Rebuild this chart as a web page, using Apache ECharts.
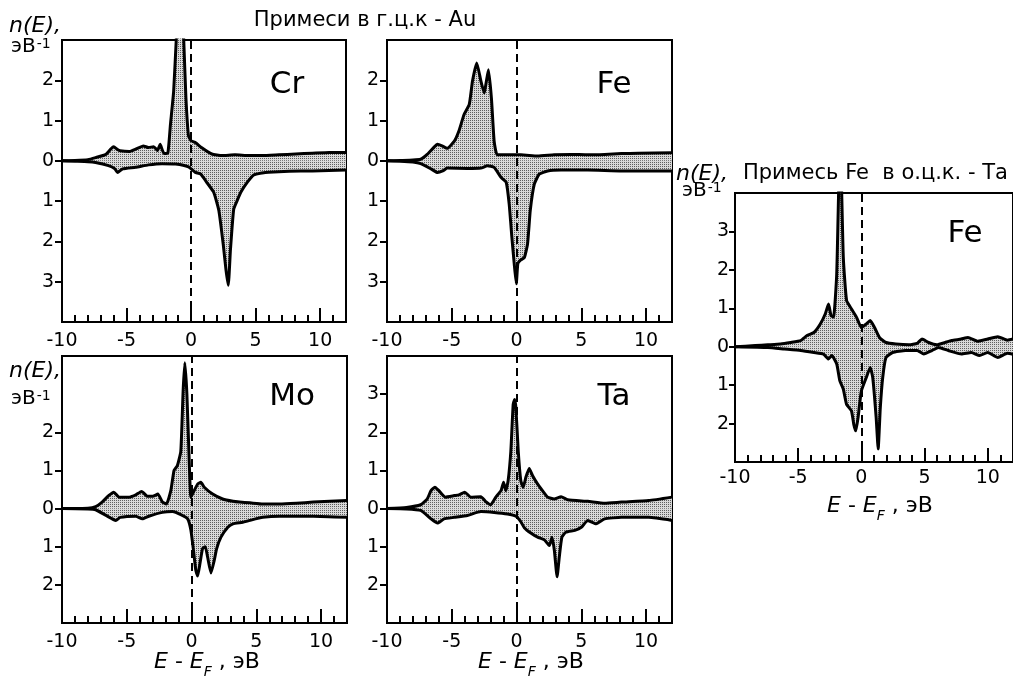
<!DOCTYPE html>
<html>
<head>
<meta charset="utf-8">
<script src="https://cdn.jsdelivr.net/npm/echarts@6/dist/echarts.min.js"></script>
<style>
  html, body { margin: 0; padding: 0; background: #fff; }
  #chart { width: 1013px; height: 680px; }
</style>
</head>
<body>
<div id="chart"></div>
<script>
/* ── data: [E - E_F (эВ), n(E)] ; "dn" = spin-down, drawn below zero ── */
const crUp = [[-10,0],[-9,0.01],[-8,0.03],[-7.4,0.08],[-6.6,0.16],[-6.2,0.3],[-6.0,0.35],[-5.7,0.28],[-5.5,0.25],[-4.8,0.23],[-4.3,0.29],[-3.7,0.37],[-3.3,0.33],[-2.9,0.35],[-2.6,0.26],[-2.4,0.41],[-2.1,0.18],[-1.8,0.2],[-1.6,0.9],[-1.35,1.73],[-1.15,3.0],[-0.8,4.77],[-0.57,3.0],[-0.4,1.56],[-0.2,0.62],[0,0.5],[0.35,0.45],[0.8,0.33],[1.6,0.17],[2.4,0.13],[3.4,0.15],[4.5,0.13],[5.5,0.13],[6.8,0.15],[8.1,0.17],[9.4,0.19],[10.7,0.21],[12,0.21]];
const crDn = [[-10,0],[-9,0.01],[-8,0.02],[-7.4,0.04],[-6.4,0.12],[-5.9,0.2],[-5.7,0.29],[-5.3,0.2],[-4.3,0.16],[-3.3,0.1],[-2.25,0.07],[-1.2,0.08],[-0.2,0.15],[0.3,0.28],[0.75,0.33],[1.25,0.55],[1.75,0.78],[2.15,1.23],[2.5,2.1],[2.7,2.7],[2.88,3.09],[3.05,2.2],[3.3,1.2],[3.55,1.0],[3.85,0.78],[4.36,0.53],[4.85,0.35],[5.5,0.3],[6.0,0.28],[7.6,0.26],[9.4,0.25],[12,0.23]];

const feUp = [[-10,0],[-9,0.01],[-8,0.02],[-7.4,0.04],[-6.9,0.16],[-6.4,0.33],[-6.1,0.41],[-5.75,0.37],[-5.35,0.31],[-4.8,0.49],[-4.45,0.74],[-4.05,1.15],[-3.65,1.4],[-3.4,1.98],[-3.07,2.43],[-2.75,1.98],[-2.5,1.69],[-2.17,2.26],[-1.94,1.56],[-1.73,0.49],[-1.5,0.15],[-0.95,0.15],[0.34,0.15],[1.63,0.12],[2.9,0.15],[4.2,0.16],[5.5,0.15],[6.8,0.16],[8.1,0.18],[9.4,0.19],[12,0.2]];
const feDn = [[-10,0],[-9,0.01],[-8,0.03],[-7.4,0.07],[-6.6,0.2],[-6.1,0.29],[-5.7,0.25],[-5.35,0.18],[-3.8,0.19],[-2.75,0.18],[-2.25,0.12],[-1.73,0.16],[-1.2,0.41],[-0.8,0.53],[-0.57,1.07],[-0.36,1.9],[-0.18,2.55],[-0.02,3.05],[0.1,2.55],[0.28,2.47],[0.6,2.4],[0.85,2.06],[1.06,1.23],[1.37,0.58],[1.75,0.33],[2.4,0.25],[3.44,0.23],[5.5,0.23],[8.1,0.25],[12,0.25]];

const moUp = [[-10,0],[-8,0.01],[-7.4,0.05],[-6.9,0.17],[-6.4,0.34],[-6.0,0.43],[-5.6,0.3],[-4.8,0.3],[-4.3,0.36],[-3.85,0.45],[-3.4,0.32],[-3.0,0.32],[-2.6,0.38],[-2.25,0.17],[-1.94,0.12],[-1.6,0.47],[-1.35,1.0],[-1.1,1.12],[-0.83,1.5],[-0.65,3.08],[-0.52,3.82],[-0.36,3.0],[-0.18,1.25],[-0.05,0.3],[0.2,0.47],[0.47,0.64],[0.72,0.69],[0.98,0.56],[1.63,0.38],[2.4,0.25],[3.2,0.19],[3.7,0.17],[4.5,0.15],[5.5,0.12],[6.8,0.12],[8.1,0.14],[9.4,0.17],[12,0.21]];
const moDn = [[-10,0],[-8,0.01],[-7.4,0.03],[-6.6,0.18],[-5.85,0.31],[-5.5,0.23],[-4.3,0.2],[-3.8,0.27],[-3.3,0.2],[-2.25,0.1],[-1.47,0.08],[-0.83,0.16],[-0.3,0.27],[-0.05,0.57],[0.15,1.1],[0.33,1.62],[0.47,1.77],[0.65,1.44],[0.85,1.05],[1.06,1.0],[1.24,1.27],[1.5,1.69],[1.75,1.36],[1.94,1.05],[2.27,0.75],[2.8,0.49],[3.2,0.4],[3.95,0.36],[4.5,0.31],[5.5,0.23],[6.8,0.2],[9.4,0.2],[12,0.23]];

const taUp = [[-10,0],[-8.5,0.03],[-7.4,0.1],[-6.9,0.25],[-6.6,0.47],[-6.3,0.56],[-6.0,0.47],[-5.5,0.3],[-4.8,0.34],[-4.45,0.36],[-4.0,0.43],[-3.55,0.3],[-2.75,0.31],[-2.4,0.19],[-2.0,0.1],[-1.6,0.3],[-1.2,0.47],[-1.0,0.69],[-0.83,0.47],[-0.65,0.73],[-0.44,1.51],[-0.26,2.73],[-0.15,2.86],[-0.05,2.64],[0.13,1.51],[0.33,0.73],[0.52,0.56],[0.72,0.82],[0.98,1.05],[1.24,0.86],[1.63,0.64],[2.0,0.47],[2.4,0.3],[2.9,0.25],[3.44,0.31],[3.95,0.23],[5.5,0.19],[6.8,0.14],[8.1,0.17],[10.2,0.21],[12,0.3]];
const taDn = [[-10,0],[-8.5,0.01],[-7.4,0.05],[-6.6,0.27],[-6.1,0.38],[-5.6,0.27],[-4.8,0.23],[-3.8,0.18],[-2.75,0.08],[-1.73,0.1],[-0.7,0.14],[-0.05,0.2],[0.3,0.33],[0.6,0.5],[1.1,0.64],[1.63,0.75],[2.15,0.82],[2.53,0.97],[2.74,0.75],[2.92,1.1],[3.13,1.79],[3.3,1.27],[3.5,0.75],[3.8,0.62],[4.5,0.57],[5.0,0.49],[5.5,0.31],[6.15,0.4],[6.8,0.27],[8.1,0.23],[10.2,0.23],[12,0.31]];

const fetaUp = [[-10,0],[-8.4,0.03],[-7.4,0.05],[-6.4,0.07],[-5.6,0.11],[-4.8,0.16],[-4.3,0.29],[-3.75,0.37],[-3.25,0.59],[-2.86,0.85],[-2.6,1.11],[-2.4,0.81],[-2.2,0.77],[-1.95,1.9],[-1.68,5.5],[-1.43,2.33],[-1.17,1.2],[-0.78,0.98],[-0.39,0.77],[0,0.5],[0.39,0.59],[0.7,0.68],[1.04,0.5],[1.43,0.24],[1.95,0.11],[2.73,0.07],[3.77,0.05],[4.42,0.09],[4.8,0.2],[5.32,0.11],[5.97,0.05],[6.62,0.11],[7.14,0.16],[7.9,0.2],[8.44,0.24],[9.22,0.14],[10.0,0.2],[10.8,0.26],[11.56,0.17],[12,0.2]];
const fetaDn = [[-10,0],[-7.4,0.02],[-6.1,0.06],[-4.8,0.1],[-3.75,0.15],[-3.0,0.19],[-2.6,0.32],[-2.34,0.23],[-1.95,0.45],[-1.7,0.89],[-1.43,1.1],[-1.17,1.5],[-0.78,1.67],[-0.6,2.02],[-0.44,2.19],[-0.26,1.84],[0,1.15],[0.39,0.8],[0.7,0.54],[0.9,0.8],[1.17,1.84],[1.33,2.66],[1.5,1.58],[1.69,0.8],[1.95,0.28],[2.47,0.15],[3.5,0.1],[4.42,0.1],[4.94,0.19],[5.58,0.1],[6.1,0.02],[6.88,0.1],[7.92,0.19],[8.7,0.15],[9.35,0.23],[10.0,0.15],[10.8,0.28],[11.56,0.17],[12,0.2]];

/* ── axis ticks ── */
const xMinorTicks = [-9,-8,-7,-6,-4,-3,-2,-1,1,2,3,4,6,7,8,9,11];
const xMajorTicks = [-5,0,5,10];
const xLabels = [-10,-5,0,5,10];
const yTicksTop = [-3,-2,-1,0,1,2];
const yTicksMo = [-2,-1,0,1,2];
const yTicksBottom = [-2,-1,0,1,2,3];

/* ── style ── */
const FONT = "'DejaVu Sans', sans-serif";
const INK = "#000";

const dots = document.createElement("canvas");
dots.width = 2; dots.height = 2;
const dctx = dots.getContext("2d");
dctx.fillStyle = "#d9d9d9"; dctx.fillRect(0, 0, 2, 2);
dctx.fillStyle = "#5e5e5e"; dctx.fillRect(0, 0, 1, 1);
const FILL = { image: dots, repeat: "repeat" };

const panels = [
  { up: crUp, dn: crDn, box: { left: 62, top: 40, width: 284, height: 282 }, y: [-4, 3], yt: yTicksTop, lm: 10, ym: 8, tl: 7 },
  { up: feUp, dn: feDn, box: { left: 387, top: 40, width: 285, height: 282 }, y: [-4, 3], yt: yTicksTop, lm: 10, ym: 8, tl: 7 },
  { up: moUp, dn: moDn, box: { left: 62, top: 356, width: 285, height: 267 }, y: [-3, 4], yt: yTicksMo, lm: 10, ym: 8, tl: 7 },
  { up: taUp, dn: taDn, box: { left: 387, top: 356, width: 285, height: 267 }, y: [-3, 4], yt: yTicksBottom, lm: 10, ym: 8, tl: 7 },
  { up: fetaUp, dn: fetaDn, box: { left: 735, top: 193, width: 288, height: 269 }, y: [-3, 4], yt: yTicksBottom, lm: 7, ym: 6, tl: 6 },
];

const grid = [], xAxis = [], yAxis = [], series = [];

panels.forEach((p, i) => {
  grid.push({ ...p.box, show: true, borderColor: INK, borderWidth: 2, backgroundColor: "transparent" });

  xAxis.push({
    gridIndex: i, type: "value", min: -10, max: 12, position: "bottom",
    axisLine: { show: false, onZero: false }, splitLine: { show: false },
    axisTick: { show: true, inside: true, length: 7, customValues: xMinorTicks, lineStyle: { color: INK, width: 2 } },
    axisLabel: { customValues: xLabels, margin: p.lm, fontSize: 19, fontFamily: FONT, color: INK },
  });
  xAxis.push({
    gridIndex: i, type: "value", min: -10, max: 12, position: "bottom",
    axisLine: { show: false, onZero: false }, splitLine: { show: false }, axisLabel: { show: false },
    axisTick: { show: true, inside: true, length: 14, customValues: xMajorTicks, lineStyle: { color: INK, width: 2 } },
  });

  yAxis.push({
    gridIndex: i, type: "value", min: p.y[0], max: p.y[1], interval: 1, position: "left",
    axisLine: { show: false, onZero: false }, splitLine: { show: false },
    axisTick: { show: true, inside: false, length: p.tl, customValues: p.yt, lineStyle: { color: INK, width: 2 } },
    axisLabel: { customValues: p.yt, margin: p.ym, fontSize: 19, fontFamily: FONT, color: INK, formatter: (v) => String(Math.abs(v)) },
  });

  const common = {
    type: "line", xAxisIndex: 2 * i, yAxisIndex: i,
    showSymbol: false, smooth: 0.15, silent: true,
    lineStyle: { color: INK, width: 3, join: "round" },
    areaStyle: { color: FILL, opacity: 1, origin: 0 },
  };
  series.push({ ...common, data: p.up });
  series.push({
    ...common,
    data: p.dn.map(([x, v]) => [x, -v]),
    markLine: {
      silent: true, symbol: "none", animation: false,
      label: { show: false },
      lineStyle: { color: INK, width: 2, type: [8, 5] },
      data: [{ xAxis: 0 }],
    },
  });
});

/* ── texts ── */
const base = { fontFamily: FONT, fill: INK };
const eUnit = {
  a: { fontSize: 20, fontFamily: FONT, lineHeight: 22, verticalAlign: "middle" },
  s: { fontSize: 14, fontFamily: FONT, lineHeight: 14, verticalAlign: "top", padding: [1, 0, 0, 1] },
};
const axisName = {
  i: { fontSize: 22, fontFamily: FONT, fontStyle: "italic", lineHeight: 34, verticalAlign: "middle" },
  n: { fontSize: 22, fontFamily: FONT, lineHeight: 34, verticalAlign: "middle" },
  f: { fontSize: 14, fontFamily: FONT, fontStyle: "italic", lineHeight: 15, verticalAlign: "bottom" },
};
const AXIS_NAME = "{i|E}{n| - }{i|E}{f|F}{n| , эВ}";

function txt(x, y, text, size, extra) {
  return { type: "text", x, y, silent: true, style: { ...base, text, fontSize: size, align: "center", verticalAlign: "middle", ...extra } };
}

const graphic = [
  txt(365, 21, "Примеси в г.ц.к - Au", 21),
  txt(9, 26, "n(E),", 22, { align: "left", fontStyle: "italic" }),
  txt(11, 47, "{a|эВ}{s|-1}", 20, { align: "left", rich: eUnit }),
  txt(9, 371, "n(E),", 22, { align: "left", fontStyle: "italic" }),
  txt(11, 399, "{a|эВ}{s|-1}", 20, { align: "left", rich: eUnit }),
  txt(676, 174, "n(E),", 22, { align: "left", fontStyle: "italic" }),
  txt(743, 174, "Примесь Fe  в о.ц.к. - Та", 21, { align: "left" }),
  txt(682, 191, "{a|эВ}{s|-1}", 20, { align: "left", rich: eUnit }),
  txt(287, 85, "Cr", 31),
  txt(614, 85, "Fe", 31),
  txt(292, 397, "Mo", 31),
  txt(614, 397, "Ta", 31),
  txt(965, 234, "Fe", 31),
  txt(207, 662, AXIS_NAME, 22, { rich: axisName }),
  txt(531, 662, AXIS_NAME, 22, { rich: axisName }),
  txt(880, 506, AXIS_NAME, 22, { rich: axisName }),
];

const chart = echarts.init(document.getElementById("chart"), null, { renderer: "canvas" });
chart.setOption({
  animation: false,
  backgroundColor: "#fff",
  grid, xAxis, yAxis, series, graphic,
});
</script>
</body>
</html>
